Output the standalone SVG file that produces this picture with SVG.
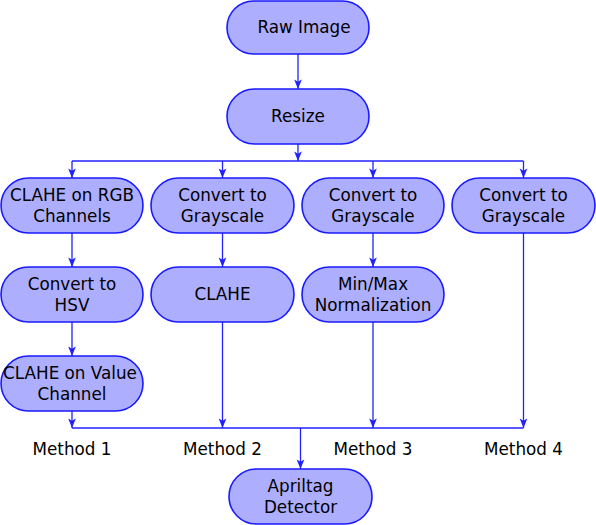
<svg xmlns="http://www.w3.org/2000/svg" width="596" height="525" viewBox="0 0 596 525">
<style>
.node rect{fill:#aeaeff;stroke:#1a1aff;stroke-width:1.6}
text{font-family:"DejaVu Sans",sans-serif;font-size:16.8px;fill:#000;text-anchor:middle}
.conn line,.conn path{stroke:#2222ff;stroke-width:1.3;fill:none}
</style>
<defs>
<marker id="ah" markerUnits="userSpaceOnUse" markerWidth="12" markerHeight="10" viewBox="-9 -4 10 8" refX="0" refY="0" orient="auto">
<path d="M0,0 L-8,-3.2 L-6,0 L-8,3.2 Z" fill="#2222ff"/>
</marker>
</defs>
<g class="conn">
<line x1="298" y1="54" x2="298" y2="89" marker-end="url(#ah)"/>
<line x1="298" y1="144" x2="298" y2="161" marker-end="url(#ah)"/>
<line x1="72" y1="161" x2="523.5" y2="161"/>
<line x1="72" y1="161" x2="72" y2="178" marker-end="url(#ah)"/>
<line x1="222.5" y1="161" x2="222.5" y2="178" marker-end="url(#ah)"/>
<line x1="373" y1="161" x2="373" y2="178" marker-end="url(#ah)"/>
<line x1="523.5" y1="161" x2="523.5" y2="178" marker-end="url(#ah)"/>
<line x1="72" y1="233" x2="72" y2="267" marker-end="url(#ah)"/>
<line x1="222.5" y1="233" x2="222.5" y2="267" marker-end="url(#ah)"/>
<line x1="373" y1="233" x2="373" y2="267" marker-end="url(#ah)"/>
<line x1="72" y1="322" x2="72" y2="356" marker-end="url(#ah)"/>
<line x1="72" y1="411" x2="72" y2="428" marker-end="url(#ah)"/>
<line x1="222.5" y1="322" x2="222.5" y2="428" marker-end="url(#ah)"/>
<line x1="373" y1="322" x2="373" y2="428" marker-end="url(#ah)"/>
<line x1="523.5" y1="233" x2="523.5" y2="428" marker-end="url(#ah)"/>
<line x1="72" y1="428" x2="523.5" y2="428"/>
<line x1="300.5" y1="428" x2="300.5" y2="469" marker-end="url(#ah)"/>
</g>
<g id="raw" class="node"><rect x="227" y="1" width="142" height="53" rx="26.5"/><text x="304" y="33">Raw Image</text></g>
<g id="resize" class="node"><rect x="227" y="89" width="142" height="55" rx="27.5"/><text x="298" y="122">Resize</text></g>
<g id="m1a" class="node"><rect x="1" y="178" width="142" height="55" rx="27.5"/><text x="72" y="201">CLAHE on RGB</text><text x="72" y="222">Channels</text></g>
<g id="m2a" class="node"><rect x="151" y="178" width="143" height="55" rx="27.5"/><text x="222.5" y="201">Convert to</text><text x="222.5" y="222">Grayscale</text></g>
<g id="m3a" class="node"><rect x="302" y="178" width="142" height="55" rx="27.5"/><text x="373" y="201">Convert to</text><text x="373" y="222">Grayscale</text></g>
<g id="m4a" class="node"><rect x="452" y="178" width="143" height="55" rx="27.5"/><text x="523.5" y="201">Convert to</text><text x="523.5" y="222">Grayscale</text></g>
<g id="m1b" class="node"><rect x="1" y="267" width="142" height="55" rx="27.5"/><text x="72" y="290">Convert to</text><text x="72" y="311">HSV</text></g>
<g id="m2b" class="node"><rect x="151" y="267" width="143" height="55" rx="27.5"/><text x="222.5" y="300">CLAHE</text></g>
<g id="m3b" class="node"><rect x="302" y="267" width="142" height="55" rx="27.5"/><text x="373" y="290">Min/Max</text><text x="373" y="311">Normalization</text></g>
<g id="m1c" class="node"><rect x="1" y="356" width="142" height="55" rx="27.5"/><text x="70" y="379">CLAHE on Value</text><text x="72" y="400">Channel</text></g>
<g id="detector" class="node"><rect x="229" y="469" width="143" height="55" rx="27.5"/><text x="300.5" y="492">Apriltag</text><text x="300.5" y="513">Detector</text></g>
<g id="labels">
<text x="72" y="455">Method 1</text>
<text x="222.5" y="455">Method 2</text>
<text x="373" y="455">Method 3</text>
<text x="523.5" y="455">Method 4</text>
</g>
</svg>
